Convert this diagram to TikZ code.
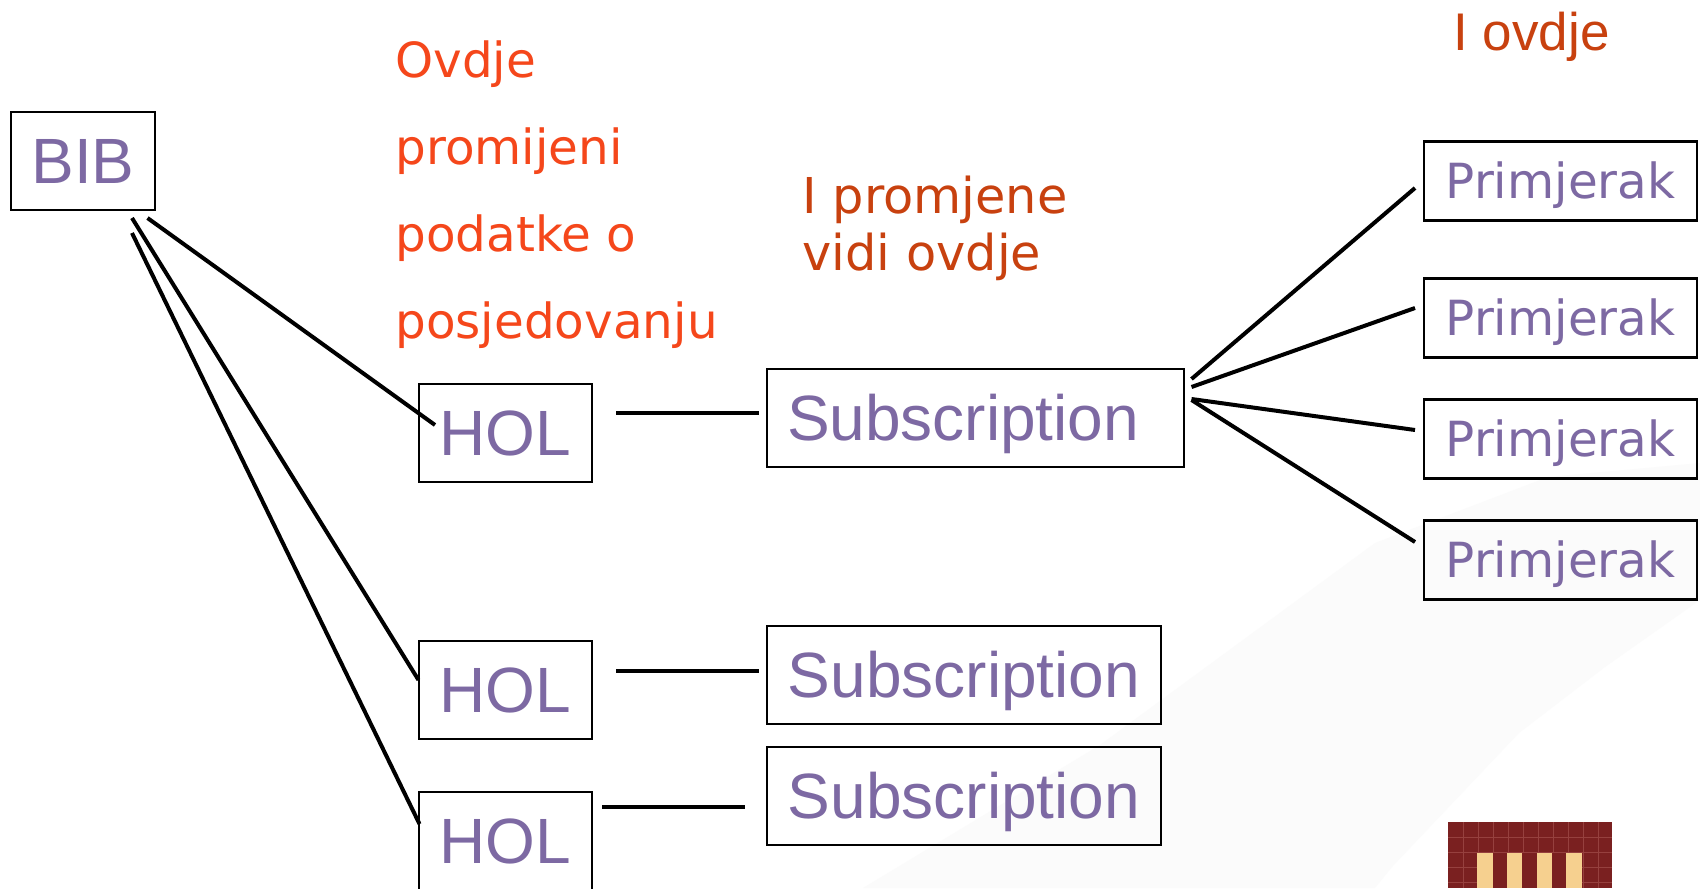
\documentclass[tikz,border=0pt]{standalone}
\usepackage{fontspec}
\setmainfont{Liberation Sans}
\newfontfamily\dejafont{DejaVu Sans}
\definecolor{boxtext}{HTML}{7D69A3}
\definecolor{redA}{HTML}{F5471B}
\definecolor{redB}{HTML}{C8410F}
\definecolor{swoosh}{HTML}{FBFBFB}
\definecolor{logodark}{HTML}{7A2020}
\definecolor{logogrid}{HTML}{96403E}
\definecolor{logocream}{HTML}{F6D08F}
\tikzset{
  boxbase/.style={draw=black,line width=1.1pt,rectangle,inner sep=0pt,text=boxtext,text depth=0pt},
  bigbox/.style={boxbase,text height=22.2pt,font=\fontsize{32}{36}\selectfont},
  primbox/.style={boxbase,text height=17.5pt,font=\dejafont\fontsize{24.2}{28}\selectfont,minimum width=136.5pt,minimum height=39.5pt},
  link/.style={line width=2pt,black},
  redtext/.style={inner sep=0pt,align=left,text=redA,font=\dejafont\fontsize{24.2}{43.5}\selectfont},
  redtextb/.style={inner sep=0pt,align=left,text=redB,font=\dejafont\fontsize{24.7}{28.5}\selectfont}
}
\begin{document}
\begin{tikzpicture}[x=0.5pt,y=-0.5pt]
\clip (0,0) rectangle (1700,888);
\fill[white] (0,0) rectangle (1700,888);
% faint background band
\fill[swoosh] (863,888) -- (1100,745) -- (1375,543) -- (1548,477) -- (1700,463) -- (1700,600) -- (1605,667) -- (1519,733) -- (1392,867) -- (1375,888) -- cycle;
% logo
\fill[logodark] (1448,822) rectangle (1612,888);
\foreach \gx in {1463,1478,...,1612} \draw[logogrid,line width=0.4pt] (\gx,822) -- (\gx,888);
\foreach \gy in {837,852,867,882} \draw[logogrid,line width=0.4pt] (1448,\gy) -- (1612,\gy);
\fill[logocream] (1477,853) rectangle (1582,888);
\fill[logodark] (1493,853) rectangle (1507,888);
\fill[logodark] (1522,853) rectangle (1537,888);
\fill[logodark] (1552,853) rectangle (1566,888);
% boxes
\node[bigbox,minimum width=72pt,minimum height=49pt] (bib) at (83,161) {BIB};
\node[bigbox,minimum width=86.5pt,minimum height=49pt] (holA) at (505.5,433) {HOL};
\node[bigbox,minimum width=86.5pt,minimum height=49pt] (holB) at (505.5,690) {HOL};
\node[bigbox,minimum width=86.5pt,minimum height=49pt] (holC) at (505.5,841) {HOL};
\node[bigbox,minimum height=49pt,text width=188.5pt,inner xsep=10pt,align=left] (subA) at (975.5,418) {Subscription};
\node[bigbox,minimum width=197pt,minimum height=49pt] (subB) at (964,675) {Subscription};
\node[bigbox,minimum width=197pt,minimum height=49pt] (subC) at (964,796) {Subscription};
\node[primbox] (primA) at (1560.5,181) {Primjerak};
\node[primbox] (primB) at (1560.5,318) {Primjerak};
\node[primbox] (primC) at (1560.5,439) {Primjerak};
\node[primbox] (primD) at (1560.5,560) {Primjerak};
% texts
\node[redtext,anchor=north west] (ovdje) at (395,40) {Ovdje\\promijeni\\podatke o\\posjedovanju};
\node[redtextb,anchor=north west] (promjene) at (802,176) {I promjene\\vidi ovdje};
\node[inner sep=0pt,anchor=base west,text=redB,font=\fontsize{26.5}{30}\selectfont] (iovdje) at (1453,51) {I ovdje};
% connector ends
\coordinate (bibA) at (147.5,218); \coordinate (holAin) at (435,425);
\coordinate (bibB) at (132,218);   \coordinate (holBin) at (418.5,680);
\coordinate (bibC) at (132,233);   \coordinate (holCin) at (419.5,824);
\coordinate (holAout) at (616,413); \coordinate (subAin) at (759,413);
\coordinate (holBout) at (616,671); \coordinate (subBin) at (759,671);
\coordinate (holCout) at (602,807); \coordinate (subCin) at (745,807);
\coordinate (subAoutA) at (1191.5,379); \coordinate (primAin) at (1415,188);
\coordinate (subAoutB) at (1191.5,387); \coordinate (primBin) at (1415,308);
\coordinate (subAoutC) at (1191.5,399); \coordinate (primCin) at (1415,430);
\coordinate (subAoutD) at (1191.5,400); \coordinate (primDin) at (1415,542);
% connectors
\draw[link] (bibA) -- (holAin);
\draw[link] (bibB) -- (holBin);
\draw[link] (bibC) -- (holCin);
\draw[link] (holAout) -- (subAin);
\draw[link] (holBout) -- (subBin);
\draw[link] (holCout) -- (subCin);
\draw[link] (subAoutA) -- (primAin);
\draw[link] (subAoutB) -- (primBin);
\draw[link] (subAoutC) -- (primCin);
\draw[link] (subAoutD) -- (primDin);
\end{tikzpicture}
\end{document}
